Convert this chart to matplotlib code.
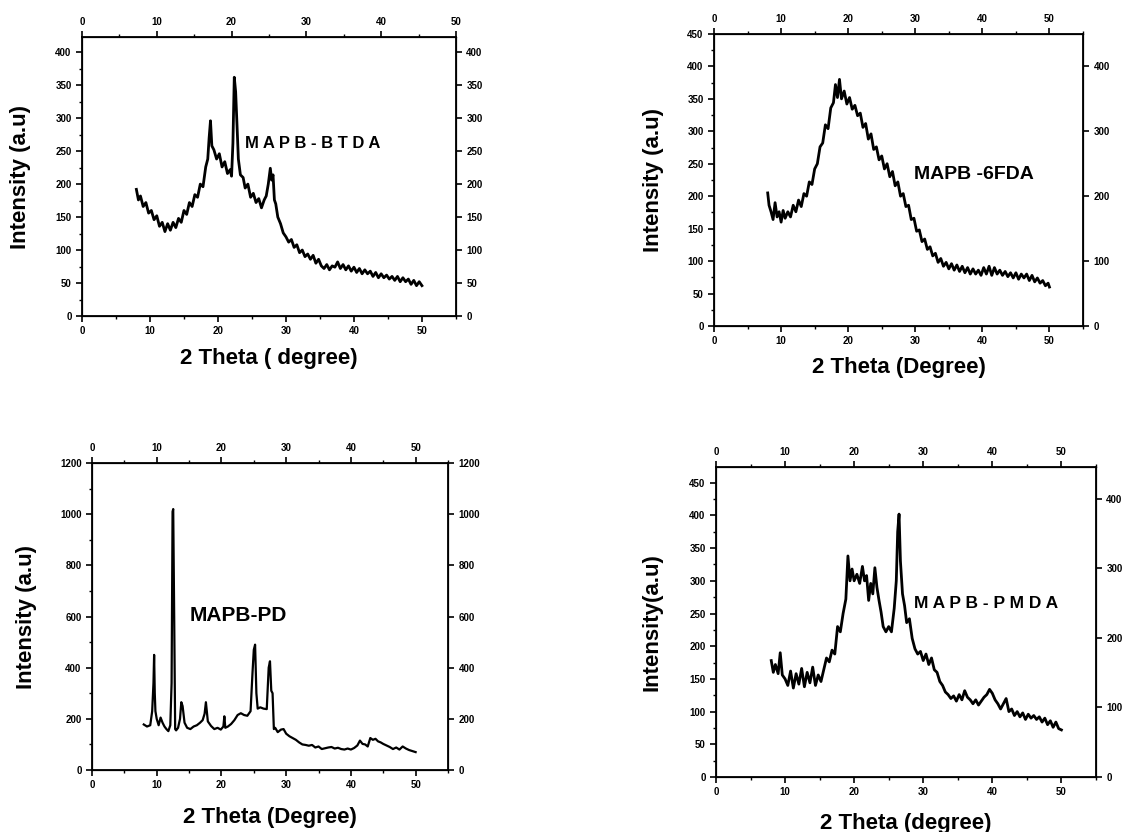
import matplotlib
matplotlib.use('Agg')
import matplotlib.pyplot as plt
from matplotlib.ticker import MultipleLocator

plt.rcParams['font.family'] = ['Liberation Sans Narrow', 'Liberation Sans', 'DejaVu Sans']
plt.rcParams['font.weight'] = 'bold'

# MAPB-BTDA
btda_x = [8.0, 8.3, 8.6, 9.0, 9.4, 9.8, 10.2, 10.6, 11.0, 11.4, 11.8, 12.2, 12.6, 13.0, 13.4, 13.8,
          14.2, 14.6, 15.0, 15.4, 15.8, 16.2, 16.6, 17.0, 17.4, 17.8, 18.2, 18.5, 18.7, 18.9, 19.1,
          19.4, 19.8, 20.2, 20.6, 21.0, 21.4, 21.8, 22.0, 22.2, 22.4, 22.6, 22.8, 23.0, 23.3, 23.7,
          24.0, 24.4, 24.8, 25.2, 25.6, 26.0, 26.4, 26.8, 27.1, 27.4, 27.7, 27.9, 28.1, 28.3, 28.5,
          28.8, 29.2, 29.6, 30.0, 30.4, 30.8, 31.2, 31.6, 32.0, 32.4, 32.8, 33.2, 33.6, 34.0, 34.4,
          34.8, 35.2, 35.6, 36.0, 36.4, 36.8, 37.2, 37.6, 38.0, 38.4, 38.8, 39.2, 39.6, 40.0, 40.4,
          40.8, 41.2, 41.6, 42.0, 42.4, 42.8, 43.2, 43.6, 44.0, 44.4, 44.8, 45.2, 45.6, 46.0, 46.4,
          46.8, 47.2, 47.6, 48.0, 48.4, 48.8, 49.2, 49.6, 50.0]
btda_y = [192, 176, 182, 166, 172, 156, 160, 146, 152, 136, 142, 128, 140, 130, 142, 134,
          148, 142, 160, 154, 172, 166, 184, 180, 200, 196, 226, 238, 270, 296, 258,
          252, 238, 246, 226, 234, 216, 222, 212, 262, 362, 340, 290, 238, 214, 210,
          194, 200, 180, 186, 172, 178, 164, 176, 182, 200, 224, 206, 214, 176, 170,
          150, 140, 126, 120, 112, 116, 104, 108, 96, 100, 90, 94, 86, 92, 80,
          86, 76, 72, 78, 70, 76, 74, 82, 72, 78, 70, 76, 68, 74, 66,
          72, 64, 70, 64, 68, 60, 66, 58, 64, 58, 62, 56, 60, 54, 60,
          52, 58, 52, 56, 48, 54, 46, 52, 46]

# MAPB-6FDA
fda_x = [8.0, 8.2, 8.5, 8.8, 9.1, 9.4, 9.7, 10.0, 10.3, 10.6, 11.0, 11.4, 11.8, 12.2, 12.6, 13.0,
         13.4, 13.8, 14.2, 14.6, 15.0, 15.4, 15.8, 16.2, 16.6, 17.0, 17.4, 17.8, 18.1, 18.4, 18.7,
         19.0, 19.4, 19.8, 20.2, 20.6, 21.0, 21.4, 21.8, 22.2, 22.6, 23.0, 23.4, 23.8, 24.2, 24.6,
         25.0, 25.4, 25.8, 26.2, 26.6, 27.0, 27.4, 27.8, 28.2, 28.6, 29.0, 29.4, 29.8, 30.2, 30.6,
         31.0, 31.4, 31.8, 32.2, 32.6, 33.0, 33.4, 33.8, 34.2, 34.6, 35.0, 35.4, 35.8, 36.2, 36.6,
         37.0, 37.4, 37.8, 38.2, 38.6, 39.0, 39.4, 39.8, 40.2, 40.6, 41.0, 41.4, 41.8, 42.2, 42.6,
         43.0, 43.4, 43.8, 44.2, 44.6, 45.0, 45.4, 45.8, 46.2, 46.6, 47.0, 47.4, 47.8, 48.2, 48.6,
         49.0, 49.4, 49.8, 50.0]
fda_y = [205, 186, 176, 164, 190, 168, 176, 160, 178, 166, 176, 168, 186, 176, 194, 184,
         204, 200, 222, 218, 242, 250, 276, 282, 310, 304, 336, 344, 372, 352, 380,
         350, 362, 342, 352, 334, 340, 324, 328, 306, 312, 288, 296, 272, 276, 256,
         262, 242, 250, 230, 238, 216, 222, 200, 204, 184, 186, 164, 166, 146, 148,
         130, 134, 118, 122, 108, 112, 98, 104, 92, 98, 88, 96, 86, 94, 84,
         92, 82, 90, 80, 88, 80, 86, 78, 90, 80, 92, 78, 90, 80, 86,
         78, 84, 76, 82, 74, 82, 72, 80, 74, 80, 70, 78, 68, 74, 66,
         70, 62, 66, 60]

# MAPB-PD
pd_x = [8.0, 8.5, 9.0, 9.3, 9.5, 9.6, 9.7, 9.8, 10.0, 10.3, 10.6, 10.9, 11.2, 11.5, 11.8, 12.1,
        12.3, 12.45, 12.55, 12.7, 12.85, 13.0, 13.3, 13.6, 13.8, 14.0, 14.3, 14.7, 15.2, 15.7,
        16.2, 16.7, 17.1, 17.4, 17.6, 17.9, 18.4, 18.9, 19.4, 19.9, 20.3, 20.45, 20.6, 21.0,
        21.5, 22.0, 22.5, 23.0, 23.5, 24.0, 24.5, 24.8, 25.0, 25.2, 25.4, 25.6, 26.0, 26.5,
        27.0, 27.3, 27.5, 27.7, 27.9, 28.1, 28.3, 28.7, 29.2, 29.6, 30.0, 30.5, 31.0, 31.5,
        32.0, 32.5, 33.0, 33.5, 34.0, 34.5, 35.0, 35.5, 36.0, 36.5, 37.0, 37.5, 38.0, 38.5,
        39.0, 39.5, 40.0, 40.5, 41.0, 41.4, 41.8, 42.2, 42.6, 43.0, 43.4, 43.8, 44.2, 44.6,
        45.0, 45.5, 46.0, 46.5, 47.0, 47.5, 48.0, 48.5, 49.0, 49.5, 50.0]
pd_y = [178, 170, 175, 230, 340, 450, 300, 230, 200, 175, 205, 185, 170, 160, 152, 175,
        340, 1010, 1020, 600, 160, 155, 165, 200, 265, 250, 185, 165, 160, 170,
        175, 185, 195, 220, 265, 190, 172, 160, 165, 158, 170, 210, 165, 170,
        180, 195, 215, 222, 215, 212, 230, 380, 470, 490, 300, 240, 245, 240,
        238, 400, 425, 310, 300, 160, 165, 148, 158, 160, 142, 132, 125, 118,
        108, 100, 98, 95, 98, 88, 92, 82, 85, 88, 90, 84, 87, 82,
        80, 84, 80, 86, 96, 115, 102, 100, 92, 125, 118, 122, 112, 108,
        102, 96, 90, 82, 88, 80, 92, 84, 78, 74, 70]

# MAPB-PMDA
pmda_x = [8.0, 8.3, 8.6, 9.0, 9.3, 9.6, 10.0, 10.4, 10.8, 11.2, 11.6, 12.0, 12.4, 12.8, 13.2,
          13.6, 14.0, 14.4, 14.8, 15.2, 15.6, 16.0, 16.4, 16.8, 17.2, 17.6, 18.0, 18.4, 18.8,
          19.1, 19.4, 19.7, 20.0, 20.4, 20.8, 21.2, 21.5, 21.8, 22.1, 22.4, 22.7, 23.0, 23.3,
          23.6, 23.9, 24.2, 24.6, 25.0, 25.4, 25.8, 26.1, 26.3, 26.5, 26.7, 27.0, 27.3, 27.6,
          28.0, 28.4, 28.8, 29.2, 29.6, 30.0, 30.4, 30.8, 31.2, 31.6, 32.0, 32.4, 32.8, 33.2,
          33.6, 34.0, 34.4, 34.8, 35.2, 35.6, 36.0, 36.4, 36.8, 37.2, 37.6, 38.0, 38.4, 38.8,
          39.2, 39.6, 40.0, 40.4, 40.8, 41.2, 41.6, 42.0, 42.4, 42.8, 43.2, 43.6, 44.0, 44.4,
          44.8, 45.2, 45.6, 46.0, 46.4, 46.8, 47.2, 47.6, 48.0, 48.4, 48.8, 49.2, 49.6, 50.0]
pmda_y = [178, 160, 172, 158, 190, 156, 150, 140, 162, 136, 158, 142, 166, 138, 160,
          144, 168, 140, 156, 146, 164, 182, 176, 194, 188, 230, 222, 250, 272,
          338, 300, 318, 300, 310, 296, 322, 300, 308, 270, 296, 280, 320, 290,
          270, 252, 230, 222, 230, 222, 258, 300, 375, 402, 330, 280, 262, 236,
          242, 212, 196, 188, 192, 178, 188, 172, 182, 164, 160, 146, 140, 130,
          126, 120, 124, 116, 126, 118, 132, 122, 118, 112, 118, 110, 116, 122,
          126, 134, 128, 118, 112, 104, 112, 120, 100, 104, 94, 100, 92, 98,
          88, 96, 90, 94, 88, 92, 84, 90, 80, 86, 76, 84, 74, 72]


def make_panel(rect, x, y, label, label_xy, label_size, xlabel, ylabel, ylim, ymajor, yminor,
               rlim, rmajor, top_lim, ylab_x, xlab_y, lw):
    ax = fig.add_axes(rect)
    ax.plot(x, y, color='black', lw=lw)
    ax.set_xlim(0, 55)
    ax.set_ylim(0, ylim)
    ax.xaxis.set_minor_locator(MultipleLocator(5))
    ax.set_xticks(range(0, 51, 10))
    ax.yaxis.set_major_locator(MultipleLocator(ymajor))
    ax.yaxis.set_minor_locator(MultipleLocator(yminor))
    ax.tick_params(which='major', direction='out', length=4, width=1.2, labelsize=7)
    ax.tick_params(which='minor', direction='out', length=2, width=1)
    ax.text(label_xy[0], label_xy[1], label, fontsize=label_size, fontweight='bold', va='center')
    ax.set_xlabel(xlabel, fontsize=16, fontweight='bold')
    ax.set_ylabel(ylabel, fontsize=16, fontweight='bold')
    ax.xaxis.set_label_coords(0.5, xlab_y)
    ax.yaxis.set_label_coords(ylab_x, 0.5)
    for s in ax.spines.values():
        s.set_linewidth(1.3)

    # right axis
    axr = ax.twinx()
    axr.set_ylim(0, rlim)
    axr.yaxis.set_major_locator(MultipleLocator(rmajor))
    axr.tick_params(direction='out', length=4, width=1.2, labelsize=7)

    # top axis
    axt = ax.twiny()
    axt.set_xlim(0, top_lim)
    axt.set_xticks(range(0, 51, 10))
    axt.xaxis.set_minor_locator(MultipleLocator(5))
    axt.tick_params(which='major', direction='out', length=4, width=1.2, labelsize=7)
    axt.tick_params(which='minor', direction='out', length=2, width=1)
    return ax


fig = plt.figure(figsize=(11.37, 8.32), dpi=100)

make_panel([0.0721, 0.6202, 0.3289, 0.3353], btda_x, btda_y, 'M A P B - B T D A', (24.0, 262), 12,
           '2 Theta ( degree)', 'Intensity (a.u)', 423, 50, 25, 423, 50, 50, -0.136, -0.115, 2.0)
make_panel([0.6280, 0.6082, 0.3245, 0.3510], fda_x, fda_y, 'MAPB -6FDA', (29.8, 233), 14,
           '2 Theta (Degree)', 'Intensity (a.u)', 450, 50, 25, 450, 100, 55, -0.135, -0.106, 2.0)
make_panel([0.0809, 0.0745, 0.3131, 0.3690], pd_x, pd_y, 'MAPB-PD', (15.1, 605), 15,
           '2 Theta (Degree)', 'Intensity (a.u)', 1200, 200, 100, 1200, 200, 55, -0.155, -0.12, 1.6)
make_panel([0.6297, 0.0661, 0.3342, 0.3726], pmda_x, pmda_y, 'M A P B - P M D A', (28.6, 265), 12.5,
           '2 Theta (degree)', 'Intensity(a.u)', 474, 50, 25, 446, 100, 55, -0.142, -0.116, 2.0)

plt.savefig('out.png', dpi=100)
